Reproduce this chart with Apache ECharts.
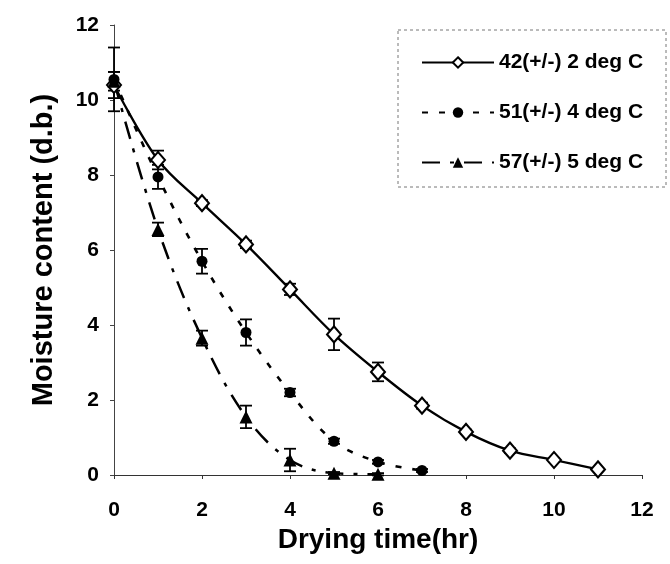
<!DOCTYPE html>
<html>
<head>
<meta charset="utf-8">
<script src="https://cdn.jsdelivr.net/npm/echarts@6/dist/echarts.min.js"></script>
<style>
  html, body { margin: 0; padding: 0; background: #fff; }
  #main { width: 670px; height: 564px; }
</style>
</head>
<body>
<div id="main"></div>
<script>
// drying time (hr)
var timeHours = [0, 1, 2, 3, 4, 5, 6, 7, 8, 9, 10, 11];
// 42 +/- 2 deg C
var s1Values = [10.4, 8.4, 7.25, 6.15, 4.95, 3.75, 2.75, 1.85, 1.15, 0.65, 0.4, 0.15];
var s1Err = [0.35, 0.25, 0.08, 0.1, 0.15, 0.42, 0.25, 0.08, 0.06, 0.06, 0.05, 0.04];
// 51 +/- 4 deg C
var s2Values = [10.55, 7.95, 5.7, 3.8, 2.2, 0.9, 0.35, 0.12];
var s2Err = [0.85, 0.32, 0.33, 0.35, 0.1, 0.07, 0.05, 0.04];
// 57 +/- 5 deg C
var s3Values = [10.5, 6.55, 3.65, 1.55, 0.4, 0.05, 0.02];
var s3Err = [0.25, 0.18, 0.2, 0.3, 0.3, 0.03, 0.03];

var seriesNames = ['42(+/-) 2 deg C', '51(+/-) 4 deg C', '57(+/-) 5 deg C'];
var xTicks = [0, 2, 4, 6, 8, 10, 12];
var yTicks = [0, 2, 4, 6, 8, 10, 12];

var FONT = 'Liberation Sans';

function pairs(vals) {
    var out = [];
    for (var i = 0; i < vals.length; i++) out.push([timeHours[i], vals[i]]);
    return out;
}
function errData(vals, errs) {
    var out = [];
    for (var i = 0; i < vals.length; i++) out.push([timeHours[i], vals[i] - errs[i], vals[i] + errs[i]]);
    return out;
}
function errorBars(name, vals, errs) {
    return {
        name: name,
        type: 'custom',
        z: 3,
        silent: true,
        data: errData(vals, errs),
        renderItem: function (params, api) {
            var x = api.value(0);
            var lo = api.coord([x, api.value(1)]);
            var hi = api.coord([x, api.value(2)]);
            var w = 6;
            var st = {stroke: '#000', lineWidth: 1.8};
            return {
                type: 'group',
                children: [
                    {type: 'line', shape: {x1: lo[0], y1: lo[1], x2: hi[0], y2: hi[1]}, style: st},
                    {type: 'line', shape: {x1: lo[0] - w, y1: lo[1], x2: lo[0] + w, y2: lo[1]}, style: st},
                    {type: 'line', shape: {x1: hi[0] - w, y1: hi[1], x2: hi[0] + w, y2: hi[1]}, style: st}
                ]
            };
        }
    };
}

var myChart = echarts.init(document.getElementById('main'));
var option = {
    backgroundColor: '#fff',
    animation: false,
    grid: {left: 114, right: 28, top: 25, bottom: 89},
    legend: {
        orient: 'vertical',
        left: 416,
        top: 47,
        itemGap: 29,
        itemWidth: 72,
        itemHeight: 13,
        data: seriesNames,
        textStyle: {fontFamily: FONT, fontWeight: 'bold', fontSize: 21, color: '#000'}
    },
    graphic: [{
        type: 'rect',
        shape: {x: 398, y: 30, width: 268, height: 157},
        style: {fill: 'none', stroke: '#777', lineWidth: 1, lineDash: [3, 3]},
        silent: true
    }],
    xAxis: {
        type: 'value',
        min: 0,
        max: 12,
        interval: 2,
        name: 'Drying time(hr)',
        nameLocation: 'middle',
        nameGap: 47,
        nameTextStyle: {fontFamily: FONT, fontWeight: 'bold', fontSize: 28, color: '#000'},
        axisLine: {lineStyle: {color: '#333', width: 1}},
        axisTick: {show: true, length: 4, lineStyle: {color: '#333'}},
        axisLabel: {
            fontFamily: FONT, fontWeight: 'bold', fontSize: 21, color: '#000', margin: 25,
            formatter: function (v) { return xTicks.indexOf(v) >= 0 ? String(v) : ''; }
        },
        splitLine: {show: false}
    },
    yAxis: {
        type: 'value',
        min: 0,
        max: 12,
        interval: 2,
        name: 'Moisture content (d.b.)',
        nameLocation: 'middle',
        nameGap: 56,
        nameTextStyle: {fontFamily: FONT, fontWeight: 'bold', fontSize: 29, color: '#000'},
        axisLine: {show: true, lineStyle: {color: '#444', width: 1}},
        axisTick: {show: true, length: 4, lineStyle: {color: '#444'}},
        axisLabel: {
            fontFamily: FONT, fontWeight: 'bold', fontSize: 21, color: '#000', margin: 15,
            formatter: function (v) { return yTicks.indexOf(v) >= 0 ? String(v) : ''; }
        },
        splitLine: {show: false}
    },
    series: [
        errorBars('err1', s1Values, s1Err),
        errorBars('err2', s2Values, s2Err),
        errorBars('err3', s3Values, s3Err),
        {
            name: seriesNames[0],
            type: 'line',
            smooth: 0.35,
            z: 4,
            data: pairs(s1Values),
            symbol: 'diamond',
            symbolSize: [14, 16],
            itemStyle: {color: '#fff', borderColor: '#000', borderWidth: 2},
            lineStyle: {color: '#000', width: 2.3, type: 'solid'}
        },
        {
            name: seriesNames[1],
            type: 'line',
            smooth: 0.35,
            z: 4,
            data: pairs(s2Values),
            symbol: 'circle',
            symbolSize: 11,
            itemStyle: {color: '#000', borderColor: '#000', borderWidth: 0},
            lineStyle: {color: '#000', width: 2.6, type: [6, 11]}
        },
        {
            name: seriesNames[2],
            type: 'line',
            smooth: 0.35,
            z: 4,
            data: pairs(s3Values),
            symbol: 'triangle',
            symbolSize: 13,
            itemStyle: {color: '#000', borderColor: '#000', borderWidth: 0},
            lineStyle: {color: '#000', width: 2.5, type: [18, 10, 4, 10]}
        }
    ]
};
myChart.setOption(option);
</script>
</body>
</html>
